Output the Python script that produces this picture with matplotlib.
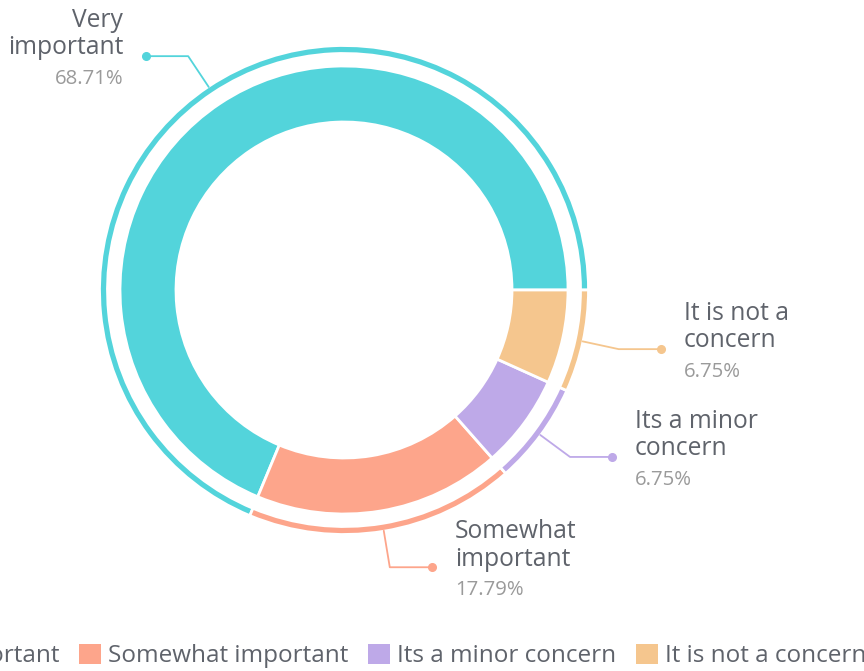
import textwrap
import numpy as np
import matplotlib
matplotlib.use('Agg')
import matplotlib.pyplot as plt
from matplotlib.patches import Patch

categories = ['Very important', 'Somewhat important', 'Its a minor concern', 'It is not a concern']
shares = [68.71, 17.79, 6.75, 6.75]
colors = ['#53d4db', '#fda58b', '#bea9e8', '#f5c68e']

text_dark = '#5f636b'
text_light = '#9a9a9a'
plt.rcParams['font.family'] = ['Open Sans', 'DejaVu Sans']

W, H = 864, 671
fig = plt.figure(figsize=(W / 100, H / 100), dpi=100)
ax = fig.add_axes([0, 0, 1, 1])

cx, cy = 344, H - 290
center = (cx, cy)

# main ring
wedges, _ = ax.pie(shares, colors=colors, startangle=0, counterclock=True,
                   radius=224, center=center, frame=True,
                   wedgeprops=dict(width=56, edgecolor='white', linewidth=2))
# thin outer ring
ax.pie(shares, colors=colors, startangle=0, counterclock=True,
       radius=244.5, center=center, frame=True,
       wedgeprops=dict(width=8, edgecolor='white', linewidth=2))
ax.set_xlim(0, W)
ax.set_ylim(0, H)
ax.set_aspect('equal')
ax.axis('off')

# leader lines + labels
for w, name, share, col in zip(wedges, categories, shares, colors):
    ang = np.deg2rad((w.theta1 + w.theta2) / 2)
    c, s = np.cos(ang), np.sin(ang)
    x0, y0 = cx + 244 * c, cy + 244 * s
    x1, y1 = cx + 281 * c, cy + 281 * s
    side = 1 if c >= 0 else -1
    x2 = x1 + side * 42
    ax.plot([x0, x1, x2], [y0, y1, y1], color=col, lw=1.3, solid_capstyle='round')
    ax.plot(x2, y1, 'o', color=col, ms=5.5)
    tx = x2 + side * 23
    ha = 'left' if side > 0 else 'right'
    ax.text(tx, y1 + 22, textwrap.fill(name, 11), ha=ha, va='center',
            fontsize=17.7, color=text_dark, linespacing=1.14)
    ax.text(tx, y1 - 23, f'{share:.2f}%', ha=ha, va='center',
            fontsize=14.7, color=text_light)

handles = [Patch(facecolor=col, edgecolor='none') for col in colors]
fig.legend(handles, categories, loc='center', bbox_to_anchor=(363 / W, 1 - 656 / H),
           ncol=4, frameon=False, fontsize=17.5, labelcolor=text_dark,
           handlelength=0.9, handleheight=0.9, handletextpad=0.3, columnspacing=0.8)

fig.savefig('out.png', dpi=100)
